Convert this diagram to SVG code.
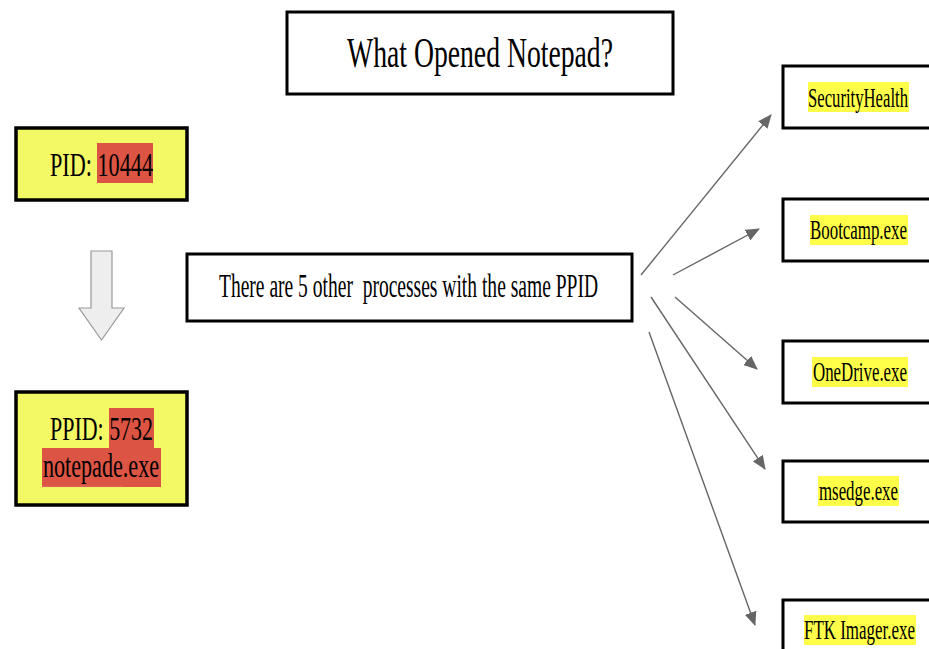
<svg xmlns="http://www.w3.org/2000/svg" width="929" height="649" viewBox="0 0 929 649">
<defs>
<style>
.box{fill:#fff;stroke:#000;stroke-width:3}
.ybox{fill:#f3f865;stroke:#000;stroke-width:3.5}
.t{font-family:"Liberation Serif","Times New Roman",serif;fill:#000}
.red{fill:#dc5443}
.hl{fill:#ffff4a}
.conn{stroke:#666;stroke-width:1.4;fill:none}
</style>
<marker id="ah" markerUnits="userSpaceOnUse" markerWidth="14" markerHeight="12" refX="13" refY="6" orient="auto">
<path d="M0,0 L14,6 L0,12 Z" fill="#666"/>
</marker>
</defs>
<rect width="929" height="649" fill="#fff"/>
<g id="title">
<rect class="box" x="287" y="12" width="386" height="82"/>
<text class="t" x="347" y="67" font-size="42" textLength="266" lengthAdjust="spacingAndGlyphs">What Opened Notepad?</text>
</g>
<g id="pid">
<rect class="ybox" x="16" y="128" width="171" height="72"/>
<rect class="red" x="97" y="143" width="56" height="40"/>
<text class="t" x="50" y="176" font-size="34" textLength="103" lengthAdjust="spacingAndGlyphs">PID: 10444</text>
</g>
<g id="down-arrow">
<path d="M91,251 L112,251 L112,308 L124,308 L101.5,340 L79,308 L91,308 Z" fill="#eeeeee" stroke="#999" stroke-width="1.2"/>
</g>
<g id="ppid">
<rect class="ybox" x="16" y="392" width="171" height="113"/>
<rect class="red" x="109" y="408" width="45" height="41"/>
<rect class="red" x="42" y="448" width="119" height="39"/>
<text class="t" x="50" y="440" font-size="34" textLength="103" lengthAdjust="spacingAndGlyphs">PPID: 5732</text>
<text class="t" x="43" y="477" font-size="34" textLength="116" lengthAdjust="spacingAndGlyphs">notepade.exe</text>
<path d="M42,487 l2,-1.5 l2,1.5 l2,-1.5 l2,1.5 l2,-1.5 l2,1.5 l2,-1.5 l2,1.5 l2,-1.5 l2,1.5 l2,-1.5 l2,1.5 l2,-1.5 l2,1.5 l2,-1.5 l2,1.5 l2,-1.5 l2,1.5 l2,-1.5 l2,1.5 l2,-1.5 l2,1.5 l2,-1.5 l2,1.5 l2,-1.5 l2,1.5 l2,-1.5 l2,1.5 l2,-1.5 l2,1.5 l2,-1.5 l2,1.5 l2,-1.5 l2,1.5 l2,-1.5 l2,1.5 l2,-1.5 l2,1.5 l2,-1.5 l2,1.5" fill="none" stroke="#e07070" stroke-width="0.8"/>
</g>
<g id="same-ppid">
<rect class="box" x="187" y="254" width="445" height="67"/>
<text class="t" x="219" y="297" font-size="34" textLength="379" lengthAdjust="spacingAndGlyphs" xml:space="preserve" style="white-space:pre">There are 5 other  processes with the same PPID</text>
</g>
<g id="securityhealth">
<rect class="box" x="783" y="66" width="160" height="62"/>
<rect class="hl" x="808" y="82" width="101" height="30"/>
<text class="t" x="808" y="107" font-size="27" textLength="100" lengthAdjust="spacingAndGlyphs">SecurityHealth</text>
</g>
<g id="bootcamp">
<rect class="box" x="783" y="199" width="160" height="62"/>
<rect class="hl" x="810" y="215" width="98" height="30"/>
<text class="t" x="810" y="239" font-size="27" textLength="97" lengthAdjust="spacingAndGlyphs">Bootcamp.exe</text>
</g>
<g id="onedrive">
<rect class="box" x="783" y="341" width="160" height="62"/>
<rect class="hl" x="812" y="357" width="96" height="30"/>
<text class="t" x="813" y="381" font-size="27" textLength="94" lengthAdjust="spacingAndGlyphs">OneDrive.exe</text>
</g>
<g id="msedge">
<rect class="box" x="783" y="461" width="160" height="61"/>
<rect class="hl" x="818" y="476" width="81" height="30"/>
<text class="t" x="819" y="500" font-size="27" textLength="79" lengthAdjust="spacingAndGlyphs">msedge.exe</text>
</g>
<g id="ftk">
<rect class="box" x="783" y="600" width="160" height="62"/>
<rect class="hl" x="804" y="615" width="112" height="30"/>
<text class="t" x="804" y="639" font-size="27" textLength="111" lengthAdjust="spacingAndGlyphs">FTK Imager.exe</text>
</g>
<g id="connectors">
<line class="conn" x1="641" y1="275" x2="771" y2="115" marker-end="url(#ah)"/>
<line class="conn" x1="673" y1="275" x2="759" y2="229" marker-end="url(#ah)"/>
<line class="conn" x1="675" y1="297" x2="757" y2="369" marker-end="url(#ah)"/>
<line class="conn" x1="651" y1="297" x2="765" y2="469" marker-end="url(#ah)"/>
<line class="conn" x1="649" y1="332" x2="755" y2="625" marker-end="url(#ah)"/>
</g>
</svg>
